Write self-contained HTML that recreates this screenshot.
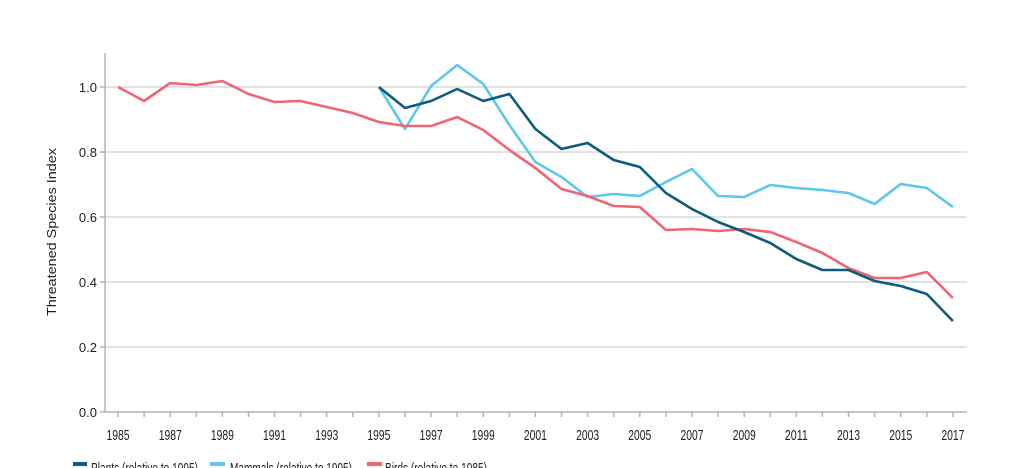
<!DOCTYPE html>
<html><head><meta charset="utf-8"><style>
html,body{margin:0;padding:0;background:#fff;}
svg{display:block;font-family:"Liberation Sans",sans-serif;}
</style></head><body>
<svg width="1024" height="468" viewBox="0 0 1024 468">
<g stroke="#d9d9d9" stroke-width="1.5">
<line x1="105" y1="87" x2="967" y2="87"/>
<line x1="105" y1="152" x2="967" y2="152"/>
<line x1="105" y1="217" x2="967" y2="217"/>
<line x1="105" y1="282" x2="967" y2="282"/>
<line x1="105" y1="347" x2="967" y2="347"/>
</g>
<g stroke="#b3b3b3" stroke-width="1.5">
<line x1="105" y1="53" x2="105" y2="412"/>
<line x1="105" y1="412" x2="967" y2="412"/>
<line x1="100" y1="87" x2="105" y2="87"/><line x1="100" y1="152" x2="105" y2="152"/><line x1="100" y1="217" x2="105" y2="217"/><line x1="100" y1="282" x2="105" y2="282"/><line x1="100" y1="347" x2="105" y2="347"/><line x1="100" y1="412" x2="105" y2="412"/>
<path d="M118 412v5M144.1 412v5M170.2 412v5M196.3 412v5M222.4 412v5M248.5 412v5M274.5 412v5M300.6 412v5M326.7 412v5M352.8 412v5M378.9 412v5M405 412v5M431.1 412v5M457.2 412v5M483.3 412v5M509.4 412v5M535.4 412v5M561.5 412v5M587.6 412v5M613.7 412v5M639.8 412v5M665.9 412v5M692 412v5M718.1 412v5M744.2 412v5M770.3 412v5M796.3 412v5M822.4 412v5M848.5 412v5M874.6 412v5M900.7 412v5M926.8 412v5M952.9 412v5"/>
</g>
<g font-size="13" fill="#222" text-anchor="end">
<text x="97" y="92">1.0</text><text x="97" y="157">0.8</text><text x="97" y="222">0.6</text><text x="97" y="287">0.4</text><text x="97" y="352">0.2</text><text x="97" y="417">0.0</text>
</g>
<text transform="translate(56,232) rotate(-90)" font-size="13" fill="#222" text-anchor="middle" textLength="168" lengthAdjust="spacingAndGlyphs">Threatened Species Index</text>
<g font-size="15" fill="#222" text-anchor="middle">
<text x="118" y="440" textLength="23" lengthAdjust="spacingAndGlyphs">1985</text><text x="170.2" y="440" textLength="23" lengthAdjust="spacingAndGlyphs">1987</text><text x="222.4" y="440" textLength="23" lengthAdjust="spacingAndGlyphs">1989</text><text x="274.5" y="440" textLength="23" lengthAdjust="spacingAndGlyphs">1991</text><text x="326.7" y="440" textLength="23" lengthAdjust="spacingAndGlyphs">1993</text><text x="378.9" y="440" textLength="23" lengthAdjust="spacingAndGlyphs">1995</text><text x="431.1" y="440" textLength="23" lengthAdjust="spacingAndGlyphs">1997</text><text x="483.3" y="440" textLength="23" lengthAdjust="spacingAndGlyphs">1999</text><text x="535.4" y="440" textLength="23" lengthAdjust="spacingAndGlyphs">2001</text><text x="587.6" y="440" textLength="23" lengthAdjust="spacingAndGlyphs">2003</text><text x="639.8" y="440" textLength="23" lengthAdjust="spacingAndGlyphs">2005</text><text x="692" y="440" textLength="23" lengthAdjust="spacingAndGlyphs">2007</text><text x="744.2" y="440" textLength="23" lengthAdjust="spacingAndGlyphs">2009</text><text x="796.3" y="440" textLength="23" lengthAdjust="spacingAndGlyphs">2011</text><text x="848.5" y="440" textLength="23" lengthAdjust="spacingAndGlyphs">2013</text><text x="900.7" y="440" textLength="23" lengthAdjust="spacingAndGlyphs">2015</text><text x="952.9" y="440" textLength="23" lengthAdjust="spacingAndGlyphs">2017</text>
</g>
<g fill="none" stroke-width="2.6" stroke-linejoin="round">
<polyline stroke="#5bc8ec" points="378.9,87 405,129 431.1,86 457.2,65 483.3,84 509.4,125 535.4,162 561.5,177 587.6,197 613.7,194 639.8,196 665.9,182 692,169 718.1,196 744.2,197 770.3,185 796.3,188 822.4,190 848.5,193 874.6,204 900.7,184 926.8,188 952.9,207"/>
<polyline stroke="#f06474" points="118,87 144.1,101 170.2,83 196.3,85 222.4,81 248.5,94 274.5,102 300.6,101 326.7,107 352.8,113 378.9,122 405,126 431.1,126 457.2,117 483.3,130 509.4,150 535.4,168 561.5,189 587.6,196 613.7,206 639.8,207 665.9,230 692,229 718.1,231 744.2,229 770.3,232 796.3,242 822.4,253 848.5,268 874.6,278 900.7,278 926.8,272 952.9,298"/>
<polyline stroke="#0c5c80" points="378.9,87 405,108 431.1,101 457.2,89 483.3,101 509.4,94 535.4,129 561.5,149 587.6,143 613.7,160 639.8,167 665.9,193 692,209 718.1,222 744.2,232 770.3,243 796.3,259 822.4,270 848.5,270 874.6,281 900.7,286 926.8,294 952.9,321"/>
</g>
<g font-size="15" fill="#222">
<rect x="73" y="462" width="14" height="4" fill="#0c5c80"/><text x="91" y="473" textLength="107" lengthAdjust="spacingAndGlyphs">Plants (relative to 1995)</text>
<rect x="210" y="462" width="15" height="4" fill="#5bc8ec"/><text x="230" y="473" textLength="122" lengthAdjust="spacingAndGlyphs">Mammals (relative to 1995)</text>
<rect x="367" y="462" width="15" height="4" fill="#f06474"/><text x="385" y="473" textLength="102" lengthAdjust="spacingAndGlyphs">Birds (relative to 1985)</text>
</g>
</svg>
</body></html>
